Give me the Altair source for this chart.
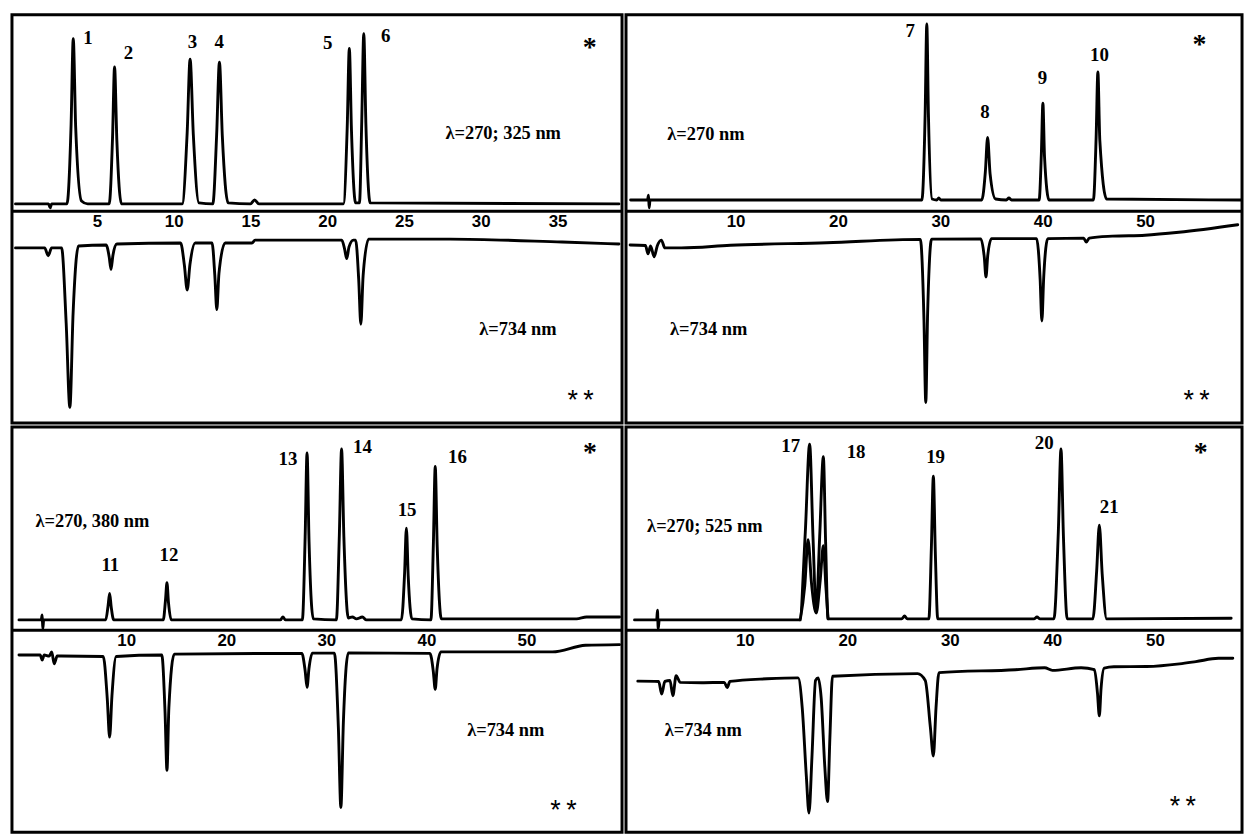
import altair as alt
import pandas as pd

# ---------------- data (time in min, signal in arbitrary units) -------------
# Panel 1 (top-left)
Q1_TOP_T = [-0.3, 1.85, 1.96, 2.05, 3.05, 3.32, 3.46, 3.62, 4.0, 4.4, 5.8, 6.02, 6.15, 6.3, 6.6,
            10.55, 10.88, 11.07, 11.28, 11.65, 12.55, 12.8, 12.98, 13.17, 13.55, 15.0, 15.27, 15.55,
            21.05, 21.3, 21.44, 21.58, 21.85, 22.1, 22.25, 22.38, 22.52, 22.8, 39.0]
Q1_TOP_V = [7, 7, 3, 7, 7, 88, 176, 85, 10, 7, 7, 75, 147, 72, 7,
            7, 80, 155, 78, 8, 7, 78, 152, 76, 8, 7, 11, 7,
            7, 84, 166, 82, 8, 8, 92, 181, 88, 8, 7]
Q1_BOT_T = [-0.3, 1.6, 1.83, 2.05, 2.7, 3.0, 3.24, 3.45, 3.8, 5.6, 5.8, 5.92, 6.04, 6.3,
            10.45, 10.7, 10.88, 11.06, 11.4, 12.5, 12.68, 12.81, 12.95, 13.35, 15.1, 15.3,
            20.95, 21.13, 21.27, 21.42, 21.7, 21.85, 22.05, 22.19, 22.34, 22.7, 28.0, 35.3, 39.0]
Q1_BOT_V = [-38, -38, -46, -38, -38, -115, -201, -105, -36, -35, -47, -60, -46, -34,
            -33, -56, -81, -55, -33, -33, -66, -101, -64, -33, -33, -30,
            -30, -39, -49, -37, -30, -30, -70, -116, -66, -29, -29, -32, -34]
Q1_PEAK_LABELS = ["1", "2", "3", "4", "5", "6"]
Q1_PEAK_T = [4.42, 7.05, 11.23, 12.96, 20.03, 23.81]
Q1_PEAK_V = [177, 161, 172, 172, 171, 179]
Q1_NOTES = ["λ=270; 325 nm", "λ=734 nm"]
Q1_NOTES_T = [31.46, 32.42]
Q1_NOTES_V = [79, -121]
Q1_STAR_T, Q1_STAR_V = [37.1], [172]
Q1_STARS2_T, Q1_STARS2_V = [36.5], [-188]
Q1_TICKS = [5, 10, 15, 20, 25, 30, 35]

# Panel 2 (top-right)
Q2_TOP_T = [-0.25, 1.4, 1.5, 1.56, 1.65, 28.2, 28.52, 28.68, 28.84, 29.2, 29.65, 29.85, 30.05,
            34.05, 34.4, 34.62, 34.86, 35.4, 36.45, 36.7, 36.95, 39.65, 39.87, 40.02, 40.18, 40.62,
            44.95, 45.22, 45.39, 45.58, 46.25, 59.4]
Q2_TOP_V = [11, 11, 16, 3, 11, 11, 100, 191, 98, 12, 11, 13, 11,
            11, 40, 75, 38, 12, 11, 13, 11, 11, 58, 110, 55, 11,
            11, 75, 142, 72, 12, 11]
Q2_BOT_T = [-0.3, 1.2, 1.45, 1.7, 2.05, 2.35, 2.75, 3.1, 4.7, 9.5, 18.9,
            28.05, 28.4, 28.58, 28.76, 29.15, 33.95, 34.3, 34.46, 34.63, 35.0,
            39.4, 39.75, 39.92, 40.1, 40.5, 44.0, 44.26, 44.55, 46.8, 50.0, 53.3, 59.05]
Q2_BOT_V = [-35, -35.5, -44, -36, -47, -36, -30, -38, -38, -35.3, -32.7,
            -29.3, -110, -196, -105, -29, -28.7, -48, -67.7, -46, -28.5,
            -28.5, -70, -112.7, -68, -28.5, -28, -32, -28, -26, -25, -22, -14.3]
Q2_PEAK_LABELS = ["7", "8", "9", "10"]
Q2_PEAK_T = [27.07, 34.37, 39.99, 45.55]
Q2_PEAK_V = [184, 101, 136, 159]
Q2_NOTES = ["λ=270 nm", "λ=734 nm"]
Q2_NOTES_T = [7.1, 7.37]
Q2_NOTES_V = [78, -121]
Q2_STAR_T, Q2_STAR_V = [55.32], [176]
Q2_STARS2_T, Q2_STARS2_V = [55.03], [-188]
Q2_TICKS = [10, 20, 30, 40, 50]

# Panel 3 (bottom-left)
Q3_TOP_T = [-0.72, 1.5, 1.6, 1.66, 1.75, 7.95, 8.18, 8.34, 8.5, 8.75, 13.7, 13.92, 14.07, 14.22, 14.5,
            25.4, 25.66, 25.9, 27.6, 27.88, 28.07, 28.27, 28.7, 31.0, 31.3, 31.52, 31.75, 32.2,
            32.6, 33.0, 33.6, 34.0, 37.5, 37.82, 38.0, 38.18, 38.55, 40.45, 40.7, 40.88, 41.08, 41.5,
            55.0, 56.0, 59.3]
Q3_TOP_V = [10, 10, 15, 1, 10, 10, 24, 37, 23, 10, 10, 30, 48, 28, 10,
            10, 13, 10, 10, 95, 181, 90, 11, 10, 98, 185, 95, 12,
            13, 11, 13, 10, 10, 58, 104, 55, 11, 10, 90, 167, 85, 11,
            11, 13, 13]
Q3_BOT_T = [-0.72, 1.4, 1.6, 1.8, 2.3, 2.55, 2.8, 3.1, 3.5, 7.7, 8.1, 8.34, 8.57, 9.0,
            13.55, 13.88, 14.07, 14.26, 14.8, 27.55, 27.88, 28.07, 28.26, 28.6,
            30.8, 31.2, 31.45, 31.7, 32.2, 40.35, 40.68, 40.88, 41.06, 41.45, 52.6, 55.9, 59.3]
Q3_BOT_V = [-26, -26, -31, -26, -27, -22.7, -35, -27, -27, -27.5, -70, -110, -68, -27.5,
            -26, -85, -144, -80, -25, -24.3, -42, -59, -40, -24,
            -24, -100, -182, -95, -23.7, -24.3, -42, -61, -40, -22.7, -22.7, -16, -15.3]
Q3_PEAK_LABELS = ["11", "12", "13", "14", "15", "16"]
Q3_PEAK_T = [8.41, 14.27, 26.16, 33.6, 38.07, 43.1]
Q3_PEAK_V = [66.3, 76.3, 174.7, 186.7, 122.3, 176.3]
Q3_NOTES = ["λ=270, 380 nm", "λ=734 nm"]
Q3_NOTES_T = [6.62, 47.93]
Q3_NOTES_V = [111, -102.7]
Q3_STAR_T, Q3_STAR_V = [56.35], [186.7]
Q3_STARS2_T, Q3_STARS2_V = [53.7], [-180]
Q3_TICKS = [10, 20, 30, 40, 50]

# Panel 4 (bottom-right)
Q4_TOP_T = [-0.76, 1.4, 1.48, 1.55, 1.65, 15.35, 15.9, 16.32, 16.65, 16.96, 17.3, 17.66, 17.88, 18.12,
            25.3, 25.58, 25.85, 27.95, 28.2, 28.39, 28.58, 28.82, 38.2, 38.5, 38.8,
            40.15, 40.58, 40.84, 41.08, 41.45, 43.95, 44.32, 44.58, 44.86, 45.3, 57.44]
Q4_TOP_V = [10, 10, 20, 1, 10, 10, 100, 190, 95, 19, 95, 177, 90, 11,
            11, 14, 11, 11, 85, 157, 80, 11, 11, 13, 11,
            11, 100, 185, 95, 11, 11, 60, 107, 57, 11, 11.7]
Q4_SECOND_T = [15.4, 15.85, 16.17, 16.5, 16.96, 17.35, 17.66, 17.9, 18.12]
Q4_SECOND_V = [10, 45, 92, 48, 17, 50, 86, 45, 11]
Q4_BOT_T = [-0.44, 1.6, 1.89, 2.2, 2.7, 2.98, 3.3, 3.7, 5.8, 8.0, 8.28, 8.55, 12.17,
            15.2, 15.6, 16.0, 16.26, 16.55, 16.9, 17.15, 17.45, 17.8, 18.07, 18.3, 18.55,
            26.85, 27.6, 28.1, 28.39, 28.65, 28.94, 36.4, 39.25, 40.0, 42.8,
            44.1, 44.4, 44.58, 44.75, 45.06, 46.0, 49.2, 52.4, 54.0, 56.2, 57.6]
Q4_BOT_V = [-52.7, -53, -66, -53, -52, -67.7, -47, -54, -54.3, -54, -59.3, -53, -50.3,
            -49.3, -80, -150, -187.7, -130, -52, -49.3, -70, -140, -176, -110, -47.7,
            -45, -52, -100, -129.3, -80, -44, -41, -39, -41.7, -39,
            -41, -65, -88.3, -60, -39.3, -38, -37.7, -35, -32.7, -29.3, -29.3]
Q4_PEAK_LABELS = ["17", "18", "19", "20", "21"]
Q4_PEAK_T = [14.47, 20.85, 28.61, 39.21, 45.54]
Q4_PEAK_V = [188.3, 181.7, 176.3, 190.7, 125.7]
Q4_NOTES = ["λ=270; 525 nm", "λ=734 nm"]
Q4_NOTES_T = [6.1, 5.95]
Q4_NOTES_V = [105.7, -102.7]
Q4_STAR_T, Q4_STAR_V = [54.47], [187.3]
Q4_STARS2_T, Q4_STARS2_V = [52.72], [-176]
Q4_TICKS = [10, 20, 30, 40, 50]

# ---------------- layout ----------------
W_LEFT, W_RIGHT = 614, 620
H_TOP, H_BOTTOM = 411, 408


def trace_df(name, ts, vs):
    return pd.DataFrame({"t": ts, "v": vs, "trace": name, "i": list(range(len(ts)))})


def text_df(labels, ts, vs):
    return pd.DataFrame({"label": labels, "t": ts, "v": vs})


def panel(traces, peaks, notes, star, stars2, xdom, ydom, ticks, width, height):
    xs = alt.Scale(domain=xdom, nice=False, zero=False)
    ys = alt.Scale(domain=ydom, nice=False, zero=False)
    axis_offset = -(-ydom[0]) / (ydom[1] - ydom[0]) * height
    x_axis = alt.Axis(
        values=ticks, orient="bottom", offset=axis_offset, title=None,
        domain=True, domainColor="black", domainWidth=3, ticks=False, tickSize=0,
        grid=False, labelFont="Liberation Sans", labelFontWeight="bold",
        labelFontSize=17, labelColor="black", labelPadding=3,
        labelFlush=False, labelOverlap=False)
    X = alt.X("t:Q", scale=xs, axis=x_axis)
    Y = alt.Y("v:Q", scale=ys, axis=None)
    df = pd.concat([trace_df(n, t, v) for n, t, v in traces], ignore_index=True)
    lines = alt.Chart(df).mark_line(
        color="black", strokeWidth=2.9, interpolate="monotone", clip=True,
        strokeJoin="round", strokeCap="round"
    ).encode(x=X, y=Y, detail="trace:N", order="i:Q")
    peak_text = alt.Chart(text_df(*peaks)).mark_text(
        font="Liberation Serif", fontWeight="bold", fontSize=19, color="black",
        align="center", baseline="middle"
    ).encode(x=X, y=Y, text="label:N")
    note_text = alt.Chart(text_df(*notes)).mark_text(
        font="Liberation Serif", fontWeight="bold", fontSize=18.5, color="black",
        align="center", baseline="middle"
    ).encode(x=X, y=Y, text="label:N")
    star_text = alt.Chart(text_df(["*"], *star)).mark_text(
        font="Liberation Serif", fontWeight="bold", fontSize=28, color="black",
        align="center", baseline="middle", dy=6
    ).encode(x=X, y=Y, text="label:N")
    stars2_text = alt.Chart(text_df(["*\u2009*"], *stars2)).mark_text(
        font="Liberation Sans", fontSize=27, color="black",
        align="center", baseline="middle", dy=6
    ).encode(x=X, y=Y, text="label:N")
    return alt.layer(lines, peak_text, note_text, star_text, stars2_text).properties(
        width=width, height=height)


q1 = panel([("270/325", Q1_TOP_T, Q1_TOP_V), ("734", Q1_BOT_T, Q1_BOT_V)],
           (Q1_PEAK_LABELS, Q1_PEAK_T, Q1_PEAK_V), (Q1_NOTES, Q1_NOTES_T, Q1_NOTES_V),
           (Q1_STAR_T, Q1_STAR_V), (Q1_STARS2_T, Q1_STARS2_V),
           [-0.53, 39.2], [-217, 200.5], Q1_TICKS, W_LEFT, H_TOP)
q2 = panel([("270", Q2_TOP_T, Q2_TOP_V), ("734", Q2_BOT_T, Q2_BOT_V)],
           (Q2_PEAK_LABELS, Q2_PEAK_T, Q2_PEAK_V), (Q2_NOTES, Q2_NOTES_T, Q2_NOTES_V),
           (Q2_STAR_T, Q2_STAR_V), (Q2_STARS2_T, Q2_STARS2_V),
           [-0.70, 59.47], [-217, 200.5], Q2_TICKS, W_RIGHT, H_TOP)
q3 = panel([("270/380", Q3_TOP_T, Q3_TOP_V), ("734", Q3_BOT_T, Q3_BOT_V)],
           (Q3_PEAK_LABELS, Q3_PEAK_T, Q3_PEAK_V), (Q3_NOTES, Q3_NOTES_T, Q3_NOTES_V),
           (Q3_STAR_T, Q3_STAR_V), (Q3_STARS2_T, Q3_STARS2_V),
           [-1.42, 59.55], [-207.5, 207.5], Q3_TICKS, W_LEFT, H_BOTTOM)
q4 = panel([("270", Q4_TOP_T, Q4_TOP_V), ("525", Q4_SECOND_T, Q4_SECOND_V), ("734", Q4_BOT_T, Q4_BOT_V)],
           (Q4_PEAK_LABELS, Q4_PEAK_T, Q4_PEAK_V), (Q4_NOTES, Q4_NOTES_T, Q4_NOTES_V),
           (Q4_STAR_T, Q4_STAR_V), (Q4_STARS2_T, Q4_STARS2_V),
           [-1.59, 58.5], [-207.5, 207.5], Q4_TICKS, W_RIGHT, H_BOTTOM)

chart = alt.concat(q1, q2, q3, q4, columns=2, spacing=0).properties(
    padding=2, background="white"
).configure_view(stroke="black", strokeWidth=3).configure_concat(spacing=0)

chart.save("out.html", embed_options={"renderer": "svg", "actions": False})
